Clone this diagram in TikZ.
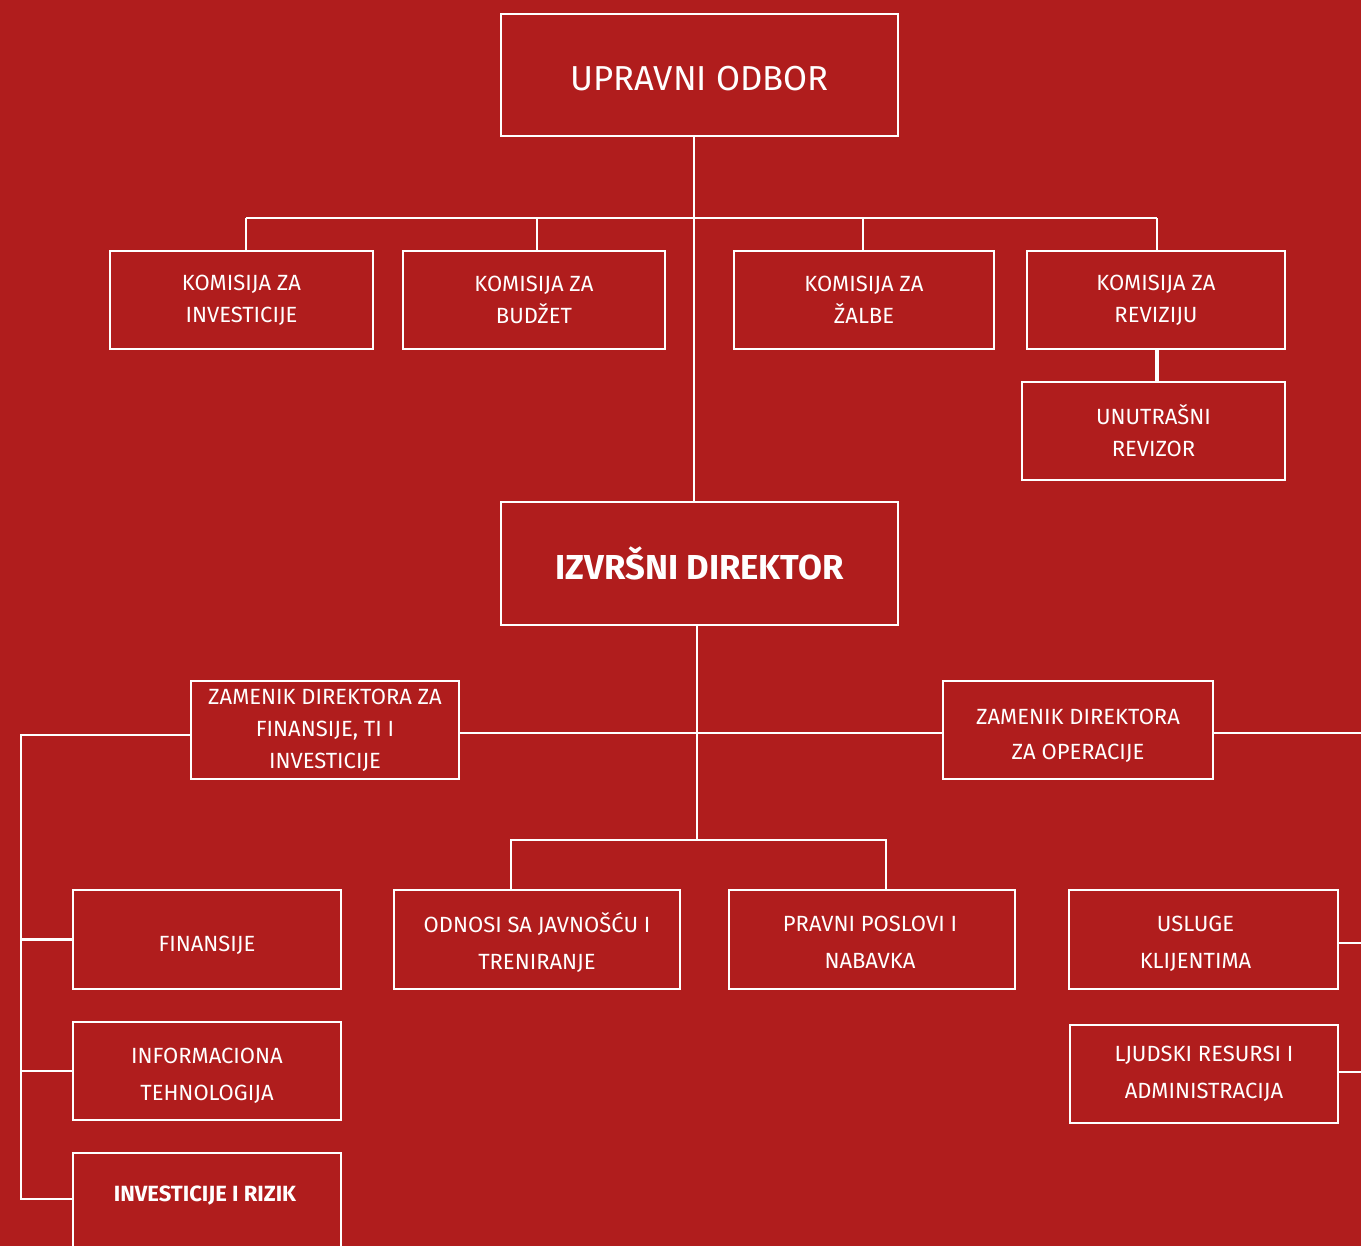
\documentclass[tikz,border=0pt]{standalone}
\usepackage{fontspec}
\setmainfont{Fira Sans}
\definecolor{bgred}{RGB}{176,29,29}
\begin{document}
\begin{tikzpicture}[x=0.75pt,y=-0.75pt,
  box/.style={draw=white, line width=2.2pt, text=white, align=center, inner sep=0pt},
  lab/.style={font=\fontsize{16.5}{24}\selectfont},
  labw/.style={font=\fontsize{16.5}{28}\selectfont},
  big/.style={font=\fontsize{26}{30}\selectfont},
  conn/.style={draw=white, line width=2.2pt},
  txt/.style={text=white, align=center, inner sep=0pt}]
\fill[bgred] (0,0) rectangle (1361,1246);
\useasboundingbox (0,0) rectangle (1361,1246);
\begin{scope}
\clip (0,0) rectangle (1361,1246);
% top
\node[box,minimum width=297.75pt,minimum height=91.5pt,
  label={[txt,big,yshift=-3pt,name=uprt]center:UPRAVNI ODBOR}] (upr) at (699.5,75) {};
\node[box,lab,minimum width=197.25pt,minimum height=73.5pt] (k1) at (241.5,300) {KOMISIJA ZA\\INVESTICIJE};
\node[box,lab,minimum width=196.5pt,minimum height=73.5pt] (k2) at (534,300) {KOMISIJA ZA\\BUDŽET};
\node[box,lab,minimum width=195pt,minimum height=73.5pt] (k3) at (864,300) {KOMISIJA ZA\\ŽALBE};
\node[box,lab,minimum width=193.5pt,minimum height=73.5pt] (k4) at (1156,300) {KOMISIJA ZA\\REVIZIJU};
\node[box,lab,minimum width=197.25pt,minimum height=73.5pt] (rev) at (1153.5,431) {UNUTRAŠNI\\REVIZOR};
\node[box,font=\fontsize{26}{30}\bfseries\selectfont,minimum width=297.75pt,minimum height=92.25pt] (izv) at (699.5,563.5) {IZVRŠNI DIREKTOR};
% deputies
\node[box,lab,minimum width=201pt,minimum height=73.5pt] (zf) at (325,730) {ZAMENIK DIREKTORA ZA\\FINANSIJE, TI I\\INVESTICIJE};
\node[box,minimum width=202.5pt,minimum height=73.5pt,
  label={[txt,font=\fontsize{16.5}{26}\selectfont,yshift=-4.5pt,name=zot]center:{ZAMENIK DIREKTORA\\ZA OPERACIJE}}] (zo) at (1078,730) {};
% left column
\node[box,minimum width=201pt,minimum height=74.25pt,
  label={[txt,labw,yshift=-4.5pt,name=fint]center:FINANSIJE}] (fin) at (207,939.5) {};
\node[box,minimum width=201pt,minimum height=73.5pt,
  label={[txt,labw,yshift=-3.75pt,name=itt]center:{INFORMACIONA\\TEHNOLOGIJA}}] (it) at (207,1071) {};
\node[box,minimum width=201pt,minimum height=150pt] (ir) at (207,1253) {};
\node[txt,font=\fontsize{16.5}{28}\bfseries\selectfont] (irt) at (205,1196) {INVESTICIJE I RIZIK};
% middle
\node[box,minimum width=214.5pt,minimum height=74.25pt,
  label={[txt,labw,yshift=-2.25pt,name=odnt]center:{ODNOSI SA JAVNOŠĆU I\\TRENIRANJE}}] (odn) at (537,939.5) {};
\node[box,minimum width=214.5pt,minimum height=74.25pt,
  label={[txt,labw,yshift=-2.25pt,xshift=-1.5pt,name=prvt]center:{PRAVNI POSLOVI I\\NABAVKA}}] (prv) at (872,939.5) {};
% right
\node[box,minimum width=201.75pt,minimum height=74.25pt,
  label={[txt,labw,yshift=-3pt,xshift=-6pt,name=uslt]center:{USLUGE\\KLIJENTIMA}}] (usl) at (1203.5,939.5) {};
\node[box,labw,minimum width=201pt,minimum height=73.5pt] (lju) at (1204,1074) {LJUDSKI RESURSI I\\ADMINISTRACIJA};
% coordinates
\coordinate (t) at (694,218);
\coordinate (b1) at (246,218);
\coordinate (b2) at (537,218);
\coordinate (b3) at (863,218);
\coordinate (b4) at (1157,218);
\coordinate (m) at (697,733);
\coordinate (mb) at (697,840);
\coordinate (d1) at (511,840);
\coordinate (d2) at (886,840);
\coordinate (lx1) at (21,735);
\coordinate (lx2) at (21,1199);
\coordinate (r1) at (1361,733);
\coordinate (r2) at (1361,943);
\coordinate (r3) at (1361,1072);
% connectors
\draw[conn] (upr.south -| t) -- (izv.north -| t);
\draw[conn] (b1) -- (b4);
\draw[conn] (b1) -- (b1 |- k1.north);
\draw[conn] (b2) -- (b2 |- k2.north);
\draw[conn] (b3) -- (b3 |- k3.north);
\draw[conn] (b4) -- (b4 |- k4.north);
\draw[draw=white,line width=3pt] (k4.south -| b4) -- (rev.north -| b4);
\draw[conn] (izv.south -| m) -- (mb);
\draw[conn] (zf.east |- m) -- (zo.west |- m);
\draw[conn] (zo.east |- r1) -- (r1);
\draw[conn] (zf.west |- lx1) -- (lx1) -- (lx2) -- (ir.west |- lx2);
\draw[conn] (lx1 |- fin.west) -- (fin.west);
\draw[conn] (lx1 |- it.west) -- (it.west);
\draw[conn] (d1 |- odn.north) -- (d1) -- (d2) -- (d2 |- prv.north);
\draw[conn] (usl.east |- r2) -- (r2);
\draw[conn] (lju.east |- r3) -- (r3);
\end{scope}
\end{tikzpicture}
\end{document}
